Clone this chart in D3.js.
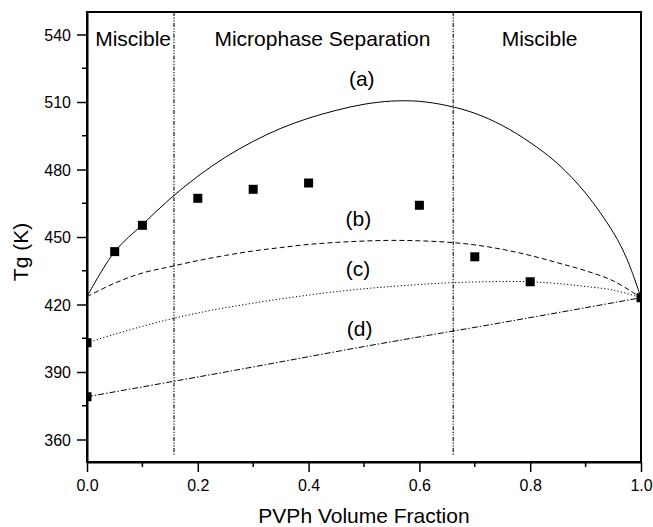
<!DOCTYPE html>
<html>
<head>
<meta charset="utf-8">
<script src="https://cdn.jsdelivr.net/npm/d3@7"></script>
<style>
  html, body { margin: 0; padding: 0; background: #fff; }
  svg { display: block; font-family: "Liberation Sans", Arial, Helvetica, sans-serif; }
</style>
</head>
<body>
<svg id="chart" width="653" height="527"></svg>
<script>
// ---- data ----
const xTicks = [0.0, 0.2, 0.4, 0.6, 0.8, 1.0];
const xMinorTicks = [0.1, 0.3, 0.5, 0.7, 0.9];
const yTicks = [360, 390, 420, 450, 480, 510, 540];
const yMinorTicks = [375, 405, 435, 465, 495, 525];

// experimental Tg points (PVPh volume fraction, Tg)
const pointFrac = [0, 0, 0.05, 0.1, 0.2, 0.3, 0.4, 0.6, 0.7, 0.8, 1.0];
const pointTg   = [403, 379, 443.5, 455.2, 467.2, 471.2, 474, 464.1, 441.2, 430.1, 423];

// curve (a)
const curveAFrac = [0, 0.05, 0.1, 0.15, 0.2, 0.25, 0.3, 0.35, 0.4, 0.45, 0.5, 0.55, 0.6, 0.65, 0.7, 0.75, 0.8, 0.85, 0.9, 0.95, 0.975, 1.0];
const curveATg   = [423.5, 443.5, 455.5, 467, 477, 485.5, 492.5, 498.3, 502.8, 506.3, 509, 510.4, 510.3, 508.4, 505, 499.5, 492, 482.5, 469.5, 452, 440, 423];
// curve (b)
const curveBFrac = [0, 0.05, 0.1, 0.15, 0.2, 0.25, 0.3, 0.35, 0.4, 0.45, 0.5, 0.55, 0.6, 0.65, 0.7, 0.75, 0.8, 0.85, 0.9, 0.95, 1.0];
const curveBTg   = [423.5, 429.5, 434, 436.8, 439.5, 441.8, 443.8, 445.3, 446.7, 447.6, 448.2, 448.5, 448.3, 447.7, 446.5, 444.5, 441.8, 438.5, 435, 430.5, 423];
// curve (c)
const curveCFrac = [0, 0.05, 0.1, 0.15, 0.2, 0.25, 0.3, 0.35, 0.4, 0.45, 0.5, 0.55, 0.6, 0.65, 0.7, 0.75, 0.8, 0.85, 0.9, 0.95, 1.0];
const curveCTg   = [403, 406.8, 410.3, 413.5, 416.2, 418.6, 420.6, 422.5, 424.2, 425.7, 427, 428, 428.9, 429.6, 430, 430.2, 430.1, 429.3, 428, 426.4, 423];
// curve (d)
const curveDFrac = [0, 0.25, 0.5, 0.75, 1.0];
const curveDTg   = [379, 390, 401.3, 412, 423];

// region boundaries
const boundaryFrac = [0.157, 0.661];
const boundaryTop = 550, boundaryBottom = 353;

const regionLabels = ["Miscible", "Microphase Separation", "Miscible"];
const regionLabelFrac = [0.0832, 0.425, 0.817];
const curveLabels = ["(a)", "(b)", "(c)", "(d)"];
const curveLabelFrac = [0.496, 0.490, 0.489, 0.492];
const curveLabelTg = [517, 455, 432.7, 406];

// ---- drawing ----
const svg = d3.select("#chart");
const W = 653, H = 527;
const mLeft = 87, mRight = 641, mTop = 12, mBottom = 462;

svg.append("rect").attr("width", W).attr("height", H).attr("fill", "#fff");

const x = d3.scaleLinear().domain([0, 1]).range([mLeft, mRight]);
const y = d3.scaleLinear().domain([350, 550]).range([mBottom, mTop]);

svg.append("defs").append("clipPath").attr("id", "plotclip")
  .append("rect").attr("x", mLeft).attr("y", mTop).attr("width", mRight - mLeft).attr("height", mBottom - mTop);

// boundary lines
svg.append("g").selectAll("line").data(boundaryFrac).join("line")
  .attr("x1", d => x(d)).attr("x2", d => x(d))
  .attr("y1", y(boundaryTop)).attr("y2", y(boundaryBottom))
  .attr("stroke", "#000").attr("stroke-width", 1.1)
  .attr("stroke-dasharray", "4,1.5,1.2,1.5,1.2,1.5");

// curves
const line = d3.line().x(d => x(d[0])).y(d => y(d[1])).curve(d3.curveCatmullRom.alpha(0.5));
const curves = [
  {f: curveAFrac, t: curveATg, dash: null},
  {f: curveBFrac, t: curveBTg, dash: "5,3"},
  {f: curveCFrac, t: curveCTg, dash: "1.2,2.2"},
  {f: curveDFrac, t: curveDTg, dash: "6,2,1.5,2"}
];
const gCurves = svg.append("g").attr("clip-path", "url(#plotclip)");
curves.forEach(c => {
  gCurves.append("path")
    .attr("d", line(d3.zip(c.f, c.t)))
    .attr("fill", "none").attr("stroke", "#000").attr("stroke-width", 1)
    .attr("stroke-dasharray", c.dash);
});

// points
const ms = 9;
svg.append("g").attr("clip-path", "url(#plotclip)")
  .selectAll("rect").data(d3.zip(pointFrac, pointTg)).join("rect")
  .attr("x", d => x(d[0]) - ms / 2).attr("y", d => y(d[1]) - ms / 2)
  .attr("width", ms).attr("height", ms).attr("fill", "#000");

// axes
const xAxis = d3.axisBottom(x).tickValues(xTicks).tickFormat(d3.format(".1f")).tickSize(10).tickSizeOuter(0);
const gx = svg.append("g").attr("transform", `translate(0,${mBottom})`).call(xAxis);
gx.selectAll("text").attr("y", 29).attr("dy", null).attr("font-size", 16).attr("font-family", "Liberation Sans, Arial, sans-serif").attr("fill", "#000");
gx.append("g").selectAll("line").data(xMinorTicks).join("line")
  .attr("x1", d => x(d)).attr("x2", d => x(d)).attr("y1", 0).attr("y2", 5)
  .attr("stroke", "#000").attr("stroke-width", 1.5);

const yAxis = d3.axisLeft(y).tickValues(yTicks).tickSize(10).tickPadding(6).tickSizeOuter(0);
const gy = svg.append("g").attr("transform", `translate(${mLeft},0)`).call(yAxis);
gy.selectAll("text").attr("dy", "0.35em").attr("font-size", 16).attr("font-family", "Liberation Sans, Arial, sans-serif").attr("fill", "#000");
gy.append("g").selectAll("line").data(yMinorTicks).join("line")
  .attr("y1", d => y(d)).attr("y2", d => y(d)).attr("x1", 0).attr("x2", -5)
  .attr("stroke", "#000").attr("stroke-width", 1.5);

svg.selectAll(".tick line").attr("stroke-width", 1.5);
svg.selectAll(".domain").attr("stroke-width", 2);

// frame
svg.append("rect").attr("x", mLeft).attr("y", mTop).attr("width", mRight - mLeft).attr("height", mBottom - mTop)
  .attr("fill", "none").attr("stroke", "#000").attr("stroke-width", 2);

// region labels
svg.append("g").selectAll("text").data(regionLabels).join("text")
  .attr("x", (d, i) => x(regionLabelFrac[i])).attr("y", 46)
  .attr("text-anchor", "middle").attr("font-size", 21).attr("fill", "#000")
  .text(d => d);

// curve labels
svg.append("g").selectAll("text").data(curveLabels).join("text")
  .attr("x", (d, i) => x(curveLabelFrac[i])).attr("y", (d, i) => y(curveLabelTg[i]))
  .attr("text-anchor", "middle").attr("font-size", 21).attr("fill", "#000")
  .text(d => d);

// axis titles
svg.append("text").attr("x", (mLeft + mRight) / 2).attr("y", 523)
  .attr("text-anchor", "middle").attr("font-size", 21).attr("fill", "#000")
  .text("PVPh Volume Fraction");
svg.append("text").attr("transform", `translate(28,${(mTop + mBottom) / 2 + 15}) rotate(-90)`)
  .attr("text-anchor", "middle").attr("font-size", 21).attr("fill", "#000")
  .text("Tg (K)");
</script>
</body>
</html>
